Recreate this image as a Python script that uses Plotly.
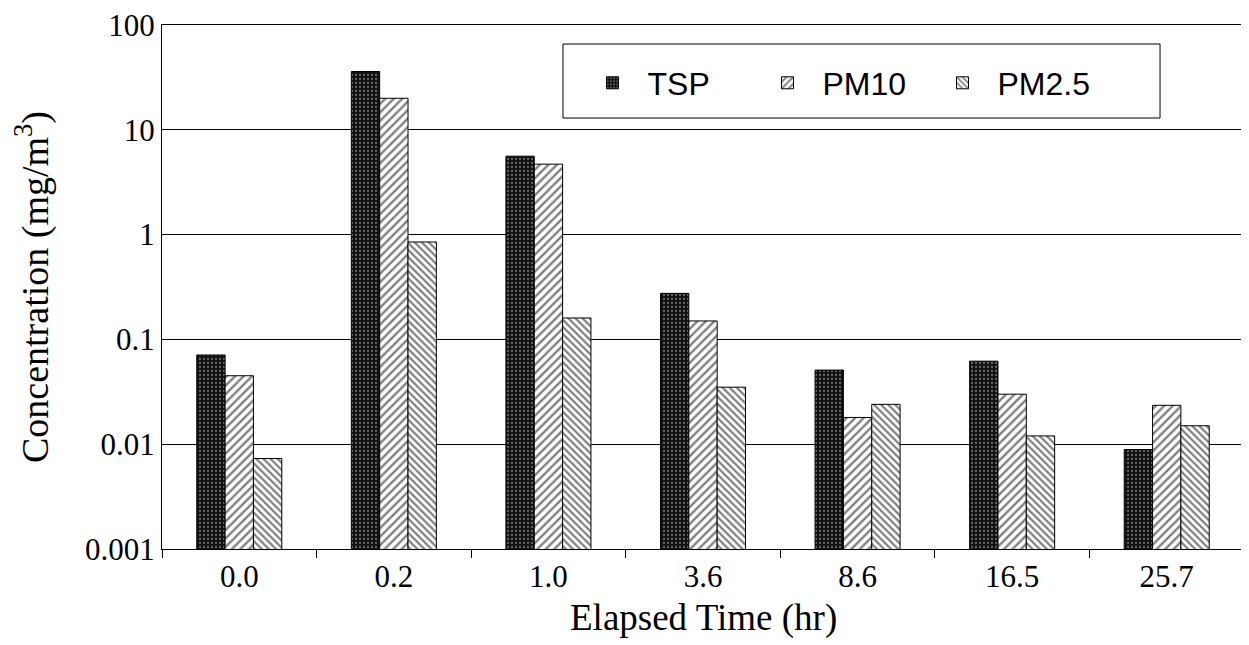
import plotly.graph_objects as go

categories = ["0.0", "0.2", "1.0", "3.6", "8.6", "16.5", "25.7"]
tsp = [0.071, 36, 5.6, 0.275, 0.051, 0.062, 0.0089]
pm10 = [0.045, 20, 4.7, 0.15, 0.018, 0.030, 0.0235]
pm25 = [0.0073, 0.85, 0.16, 0.035, 0.024, 0.012, 0.015]
y_tickvals = [0.001, 0.01, 0.1, 1, 10, 100]
y_ticktext = ["0.001", "0.01", "0.1", "1", "10", "100"]

serif = "Liberation Serif, Times New Roman, serif"
sans = "Liberation Sans, Arial, sans-serif"

fig = go.Figure()
fig.add_trace(go.Bar(
    name="TSP", x=categories, y=tsp,
    marker=dict(color="#111111", line=dict(color="black", width=1),
                pattern=dict(shape=".", fgcolor="#bbbbbb", bgcolor="#111111",
                             size=4, solidity=0.25, fillmode="overlay")),
))
fig.add_trace(go.Bar(
    name="PM10", x=categories, y=pm10,
    marker=dict(color="white", line=dict(color="black", width=1),
                pattern=dict(shape="/", fgcolor="black", bgcolor="white",
                             size=6, solidity=0.4)),
))
fig.add_trace(go.Bar(
    name="PM2.5", x=categories, y=pm25,
    marker=dict(color="white", line=dict(color="black", width=1),
                pattern=dict(shape="\\", fgcolor="black", bgcolor="white",
                             size=5, solidity=0.45)),
))

# legend frame
fig.add_shape(type="rect", xref="paper", yref="paper",
              x0=0.3706, x1=0.9224, y0=0.8225, y1=0.9637,
              line=dict(color="black", width=1), fillcolor="white", layer="above")

# x-axis title
fig.add_annotation(text="Elapsed Time (hr)", xref="paper", yref="paper",
                   x=0.5, y=-0.1317, xanchor="center", yanchor="middle",
                   showarrow=False, font=dict(family=serif, size=37, color="black"))

fig.update_layout(
    width=1249, height=645,
    margin=dict(l=154, r=13, t=17, b=104, autoexpand=False),
    paper_bgcolor="white", plot_bgcolor="white",
    barmode="group", bargap=0.45, bargroupgap=0,
    showlegend=True,
    legend=dict(
        orientation="h", x=0.384, y=0.8893, xanchor="left", yanchor="middle",
        bgcolor="rgba(0,0,0,0)", borderwidth=0,
        font=dict(family=sans, size=32, color="black"),
        itemwidth=60, entrywidth=100, tracegroupgap=0,
    ),
    xaxis=dict(
        automargin=False,
        showline=True, linecolor="black", linewidth=1, mirror=True,
        ticks="outside", ticklen=8, tickcolor="black", tickson="boundaries",
        tickfont=dict(family=serif, size=31, color="black"),
        showgrid=False,
    ),
    yaxis=dict(
        automargin=False,
        type="log", range=[-3, 2],
        tickvals=y_tickvals, ticktext=y_ticktext,
        ticklabeloverflow="allow",
        showline=True, linecolor="black", linewidth=1, mirror=True,
        ticks="inside", ticklen=6, tickcolor="black",
        tickfont=dict(family=serif, size=31, color="black"),
        showgrid=True, gridcolor="black", gridwidth=1,
        title=dict(text="Concentration (mg/m<sup>3</sup>)", font=dict(family=serif, size=38, color="black"), standoff=30),
    ),
)

fig.write_html("out.html")
